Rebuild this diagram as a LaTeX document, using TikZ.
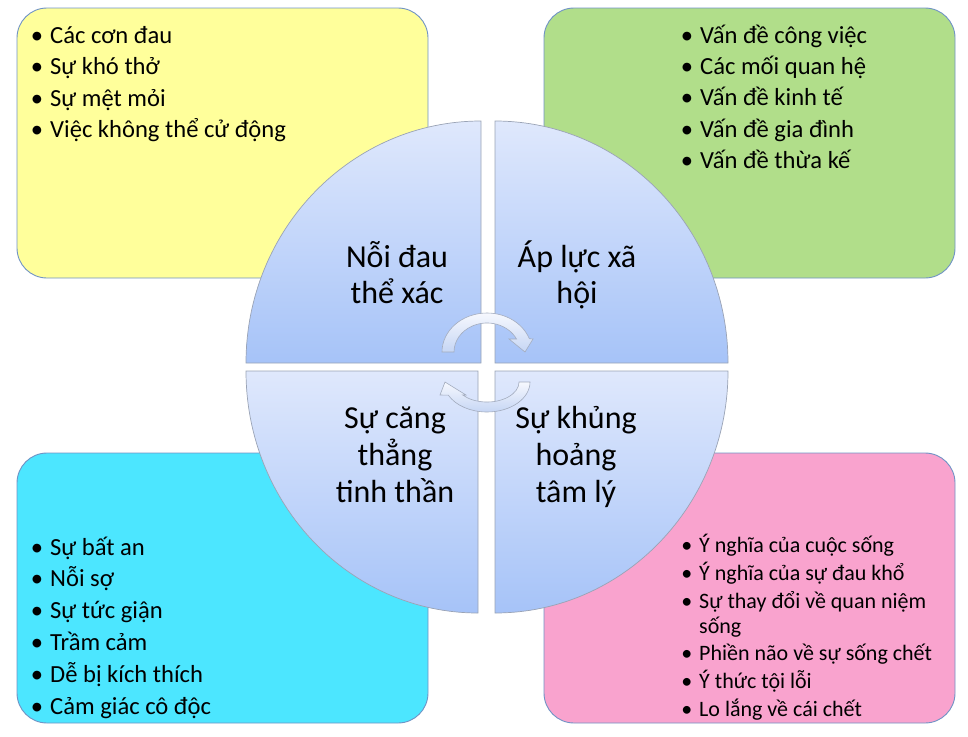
\documentclass[tikz,border=0pt]{standalone}
\usepackage{fontspec}
\setmainfont{Carlito}
\usepackage{tikz}
\usetikzlibrary{positioning}

\definecolor{boxyellow}{HTML}{FFFF9B}
\definecolor{boxgreen}{HTML}{B1DE8A}
\definecolor{boxcyan}{HTML}{4CE6FF}
\definecolor{boxpink}{HTML}{F9A3CE}
\definecolor{panelline}{HTML}{7093C5}
\definecolor{qtop}{HTML}{DFE8FC}
\definecolor{qbottom}{HTML}{A6C3F8}
\definecolor{quarterline}{HTML}{9AA3B5}
\definecolor{arrowtop}{HTML}{F6F8FE}
\definecolor{arrowbottom}{HTML}{C6D6F4}
\definecolor{arrowline}{HTML}{A3ACBE}

\newcommand{\bul}{\llap{\textbullet\hspace{7pt}}}

\begin{document}
\begin{tikzpicture}[x=1pt, y=-1pt,
    panel/.style={draw=panelline, line width=0.9pt, rounded corners=30pt},
    quarter/.style={draw=quarterline, line width=0.7pt, top color=qtop, bottom color=qbottom},
    cyclearrow/.style={draw=arrowline, line width=0.6pt, top color=arrowtop, bottom color=arrowbottom},
    listitem/.style={anchor=base west, inner sep=0pt, font=\fontsize{24.6}{30}\selectfont},
    smallitem/.style={anchor=base west, inner sep=0pt, font=\fontsize{22}{27}\selectfont},
    quartertext/.style={anchor=base, inner sep=0pt, font=\fontsize{32}{38}\selectfont}]
    \useasboundingbox (0,0) rectangle (968,736);

    % Panels
    \draw[panel, fill=boxyellow] (17,8) rectangle (428,278);
    \draw[panel, fill=boxgreen] (544,8) rectangle (955,278);
    \draw[panel, fill=boxcyan] (17,453) rectangle (428,723);
    \draw[panel, fill=boxpink] (544,453) rectangle (955,723);

    % Quarters of the circle
    \draw[quarter] (481,363) -- (246,363) arc[start angle=180, end angle=270, x radius=235, y radius=242] -- cycle;
    \draw[quarter] (495,363) -- (495,121) arc[start angle=270, end angle=360, x radius=233, y radius=242] -- cycle;
    \draw[quarter] (478,371) -- (246,371) arc[start angle=180, end angle=90, x radius=232, y radius=242] -- cycle;
    \draw[quarter] (495,371) -- (728,371) arc[start angle=0, end angle=90, x radius=233, y radius=242] -- cycle;

    % Cycle arrows
    \draw[cyclearrow] (442,352) arc[start angle=180, end angle=340, x radius=45, y radius=39]
        -- (533,339) -- (525,352) -- (509,339) -- (516.5,339)
        arc[start angle=333.4, end angle=180, x radius=33, y radius=29] -- cycle;
    \draw[cyclearrow] (530,382) arc[start angle=0, end angle=154, x radius=43, y radius=30]
        -- (440,395) -- (445,382) -- (466,395) -- (462.7,395)
        arc[start angle=139.5, end angle=0, x radius=32, y radius=20] -- cycle;

    % Quarter labels
    \node[quartertext] (pain1) at (397,267) {Nỗi đau};
    \node[quartertext] (pain2) at (397,303) {thể xác};
    \node[quartertext] (social1) at (577,267) {Áp lực xã};
    \node[quartertext] (social2) at (577,303) {hội};
    \node[quartertext] (stress1) at (395,428) {Sự căng};
    \node[quartertext] (stress2) at (395,465) {thẳng};
    \node[quartertext] (stress3) at (395,502) {tinh thần};
    \node[quartertext] (crisis1) at (576,428) {Sự khủng};
    \node[quartertext] (crisis2) at (576,465) {hoảng};
    \node[quartertext] (crisis3) at (576,502) {tâm lý};

    % Physical list
    \node[listitem] (phys1) at (50,43.3) {\bul Các cơn đau};
    \node[listitem] (phys2) at (50,74.8) {\bul Sự khó thở};
    \node[listitem] (phys3) at (50,106.3) {\bul Sự mệt mỏi};
    \node[listitem] (phys4) at (50,137.8) {\bul Việc không thể cử động};

    % Social list
    \node[listitem] (soc1) at (700,43.3) {\bul Vấn đề công việc};
    \node[listitem] (soc2) at (700,74.5) {\bul Các mối quan hệ};
    \node[listitem] (soc3) at (700,105.8) {\bul Vấn đề kinh tế};
    \node[listitem] (soc4) at (700,137) {\bul Vấn đề gia đình};
    \node[listitem] (soc5) at (700,168.3) {\bul Vấn đề thừa kế};

    % Mental list
    \node[listitem] (ment1) at (50,555) {\bul Sự bất an};
    \node[listitem] (ment2) at (50,586.8) {\bul Nỗi sợ};
    \node[listitem] (ment3) at (50,618.6) {\bul Sự tức giận};
    \node[listitem] (ment4) at (50,650.4) {\bul Trầm cảm};
    \node[listitem] (ment5) at (50,682.2) {\bul Dễ bị kích thích};
    \node[listitem] (ment6) at (50,714) {\bul Cảm giác cô độc};

    % Spiritual list
    \node[smallitem] (spir1) at (699,552.3) {\bul Ý nghĩa của cuộc sống};
    \node[smallitem] (spir2) at (699,580) {\bul Ý nghĩa của sự đau khổ};
    \node[smallitem] (spir3) at (699,608.3) {\bul Sự thay đổi về quan niệm};
    \node[smallitem] (spir3b) at (699,633.3) {sống};
    \node[smallitem] (spir4) at (699,660) {\bul Phiền não về sự sống chết};
    \node[smallitem] (spir5) at (699,688.3) {\bul Ý thức tội lỗi};
    \node[smallitem] (spir6) at (699,716) {\bul Lo lắng về cái chết};
\end{tikzpicture}
\end{document}
